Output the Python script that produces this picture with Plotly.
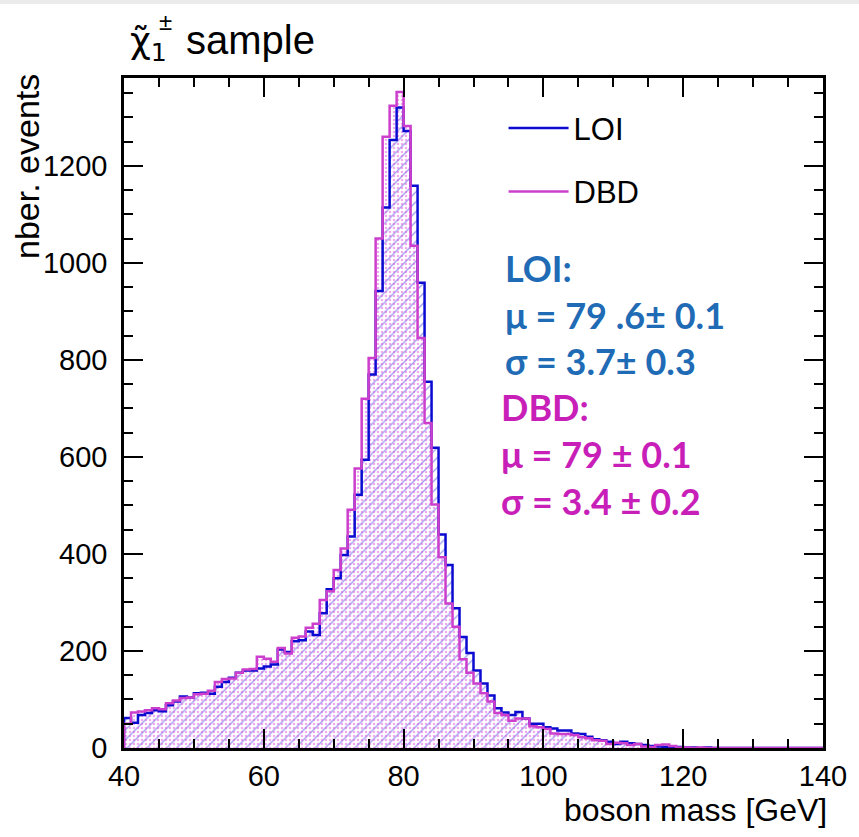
import plotly.graph_objects as go

# ---------------- data ----------------
bin_low = list(range(40, 140))          # left edges of 1 GeV bins
bin_width = 1.0

loi_counts = [
    62, 52, 68, 72, 78, 76, 88, 96, 106, 104,
    113, 114, 112, 126, 136, 145, 155, 160, 160, 164,
    168, 172, 203, 198, 220, 222, 240, 233, 278, 327,
    350, 398, 436, 522, 594, 770, 942, 1114, 1253, 1320,
    1272, 1159, 959, 755, 619, 440, 377, 288, 229, 196,
    160, 133, 108, 82, 73, 68, 74, 61, 50, 50,
    43, 40, 36, 36, 30, 29, 23, 18, 16, 13,
    8, 13, 10, 8, 6, 4, 3, 2, 2, 2,
    1, 1, 0, 1, 0, 0, 0, 0, 0, 0,
    0, 0, 0, 0, 0, 0, 0, 0, 0, 0,
]

dbd_counts = [
    50, 73, 75, 78, 82, 80, 92, 98, 103, 104,
    111, 112, 118, 136, 142, 143, 155, 162, 163, 188,
    184, 178, 206, 195, 227, 230, 248, 256, 305, 323,
    367, 411, 491, 576, 720, 804, 1050, 1260, 1324, 1352,
    1282, 1035, 845, 670, 502, 393, 298, 250, 183, 155,
    133, 113, 96, 72, 68, 56, 61, 61, 45, 43,
    39, 30, 29, 29, 27, 22, 20, 16, 15, 8,
    11, 10, 6, 8, 3, 2, 6, 7, 4, 1,
    1, 0, 1, 0, 0, 0, 0, 0, 0, 0,
    0, 0, 0, 0, 0, 0, 0, 0, 0, 0,
]

series_names = ["LOI", "DBD"]
x_tick_vals = [40, 60, 80, 100, 120, 140]
y_tick_vals = [0, 200, 400, 600, 800, 1000, 1200]

LOI_LINE = "#0a0ad0"
DBD_LINE = "#cc3fcc"
LOI_TEXT = "#1f6bb5"
DBD_TEXT = "#c81fb8"
FONT = "Liberation Sans, Arial, sans-serif"
CLEAR = "rgba(0,0,0,0)"

centers = [b + bin_width / 2 for b in bin_low]


def step_xy(counts):
    xs = [bin_low[0]] + list(bin_low) + [bin_low[-1] + bin_width] * 2
    ys = [0] + list(counts) + [counts[-1], 0]
    return xs, ys


fig = go.Figure()

# hatched fills
fig.add_trace(go.Bar(
    x=centers, y=loi_counts, width=bin_width, showlegend=False,
    marker=dict(color=CLEAR, line=dict(width=0),
                pattern=dict(shape="/", fgcolor="#3535e0", bgcolor=CLEAR,
                             size=7, solidity=0.18)),
    hoverinfo="skip",
))
fig.add_trace(go.Bar(
    x=centers, y=dbd_counts, width=bin_width, showlegend=False,
    marker=dict(color=CLEAR, line=dict(width=0),
                pattern=dict(shape=".", fgcolor="#dd55dd", bgcolor=CLEAR,
                             size=4, solidity=0.32)),
    hoverinfo="skip",
))

# step outlines
for name, counts, col, grp in [("LOI", loi_counts, LOI_LINE, "a"),
                               ("DBD", dbd_counts, DBD_LINE, "b")]:
    xs, ys = step_xy(counts)
    fig.add_trace(go.Scatter(
        x=xs, y=ys, mode="lines", name=name, legendgroup=grp,
        line=dict(color=col, width=2.5, shape="hv"),
    ))

axis_common = dict(
    showline=True, linecolor="black", linewidth=2.5, mirror="ticks",
    ticks="inside", tickcolor="black", tickwidth=2,
    showgrid=False, zeroline=False,
    tickfont=dict(family=FONT, size=29, color="black"),
)

fig.update_xaxes(
    range=[40, 140], tickvals=x_tick_vals, ticklen=19,
    minor=dict(dtick=5, ticklen=9, tickwidth=2, tickcolor="black", ticks="inside"),
    **axis_common,
)
fig.update_yaxes(
    range=[0, 1381], tickvals=y_tick_vals, ticklen=19,
    minor=dict(dtick=50, ticklen=9, tickwidth=2, tickcolor="black", ticks="inside"),
    ticklabelstandoff=8,
    **axis_common,
)

annotations = [
    dict(text="χ\u0303<sub>1</sub>", x=0.006, y=1.052, xanchor="left", yanchor="middle",
         font=dict(family="DejaVu Sans, sans-serif", size=36, color="black")),
    dict(text="±", x=0.06, y=1.084, xanchor="center", yanchor="middle",
         font=dict(family=FONT, size=24, color="black")),
    dict(text="sample", x=0.0855, y=1.057, xanchor="left", yanchor="middle",
         font=dict(family=FONT, size=40, color="black")),
    dict(text="nber. events", x=-0.138, y=1.009, xanchor="center", yanchor="top",
         textangle=-90, font=dict(family=FONT, size=34, color="black")),
    dict(text="boson mass [GeV]", x=1.008, y=-0.0925, xanchor="right", yanchor="middle",
         font=dict(family=FONT, size=32, color="black")),
]

stat_lines = [
    ("<b>LOI:</b>", 268, LOI_TEXT, 505),
    ("<b>μ = 79 .6± 0.1</b>", 315, LOI_TEXT, 505),
    ("<b>σ = 3.7± 0.3</b>", 361, LOI_TEXT, 505),
    ("<b>DBD:</b>", 407, DBD_TEXT, 501),
    ("<b>μ = 79 ± 0.1</b>", 454, DBD_TEXT, 501),
    ("<b>σ = 3.4 ± 0.2</b>", 501, DBD_TEXT, 501),
]
# pixel -> paper conversion for annotation placement
for txt, ypx, col, xpx in stat_lines:
    annotations.append(dict(text=txt, x=(xpx - 124) / 702, y=(748 - ypx) / 670,
                            xanchor="left", yanchor="middle",
                            font=dict(family="Lato, sans-serif", size=36, color=col)))

for a in annotations:
    a.update(xref="paper", yref="paper", showarrow=False)

fig.update_layout(
    width=859, height=837,
    margin=dict(l=124, r=33, t=78, b=89),
    paper_bgcolor="white", plot_bgcolor="white",
    barmode="overlay", bargap=0,
    annotations=annotations,
    legend=dict(x=0.543, y=0.965, xanchor="left", yanchor="top",
                bgcolor=CLEAR, tracegroupgap=20, itemwidth=60,
                font=dict(family=FONT, size=31, color="black")),
    shapes=[dict(type="rect", xref="paper", yref="paper",
                 x0=-0.2, x1=1.06, y0=1.1104, y1=1.13,
                 fillcolor="#ebebeb", line=dict(width=0), layer="below")],
)

fig.write_html("out.html")
